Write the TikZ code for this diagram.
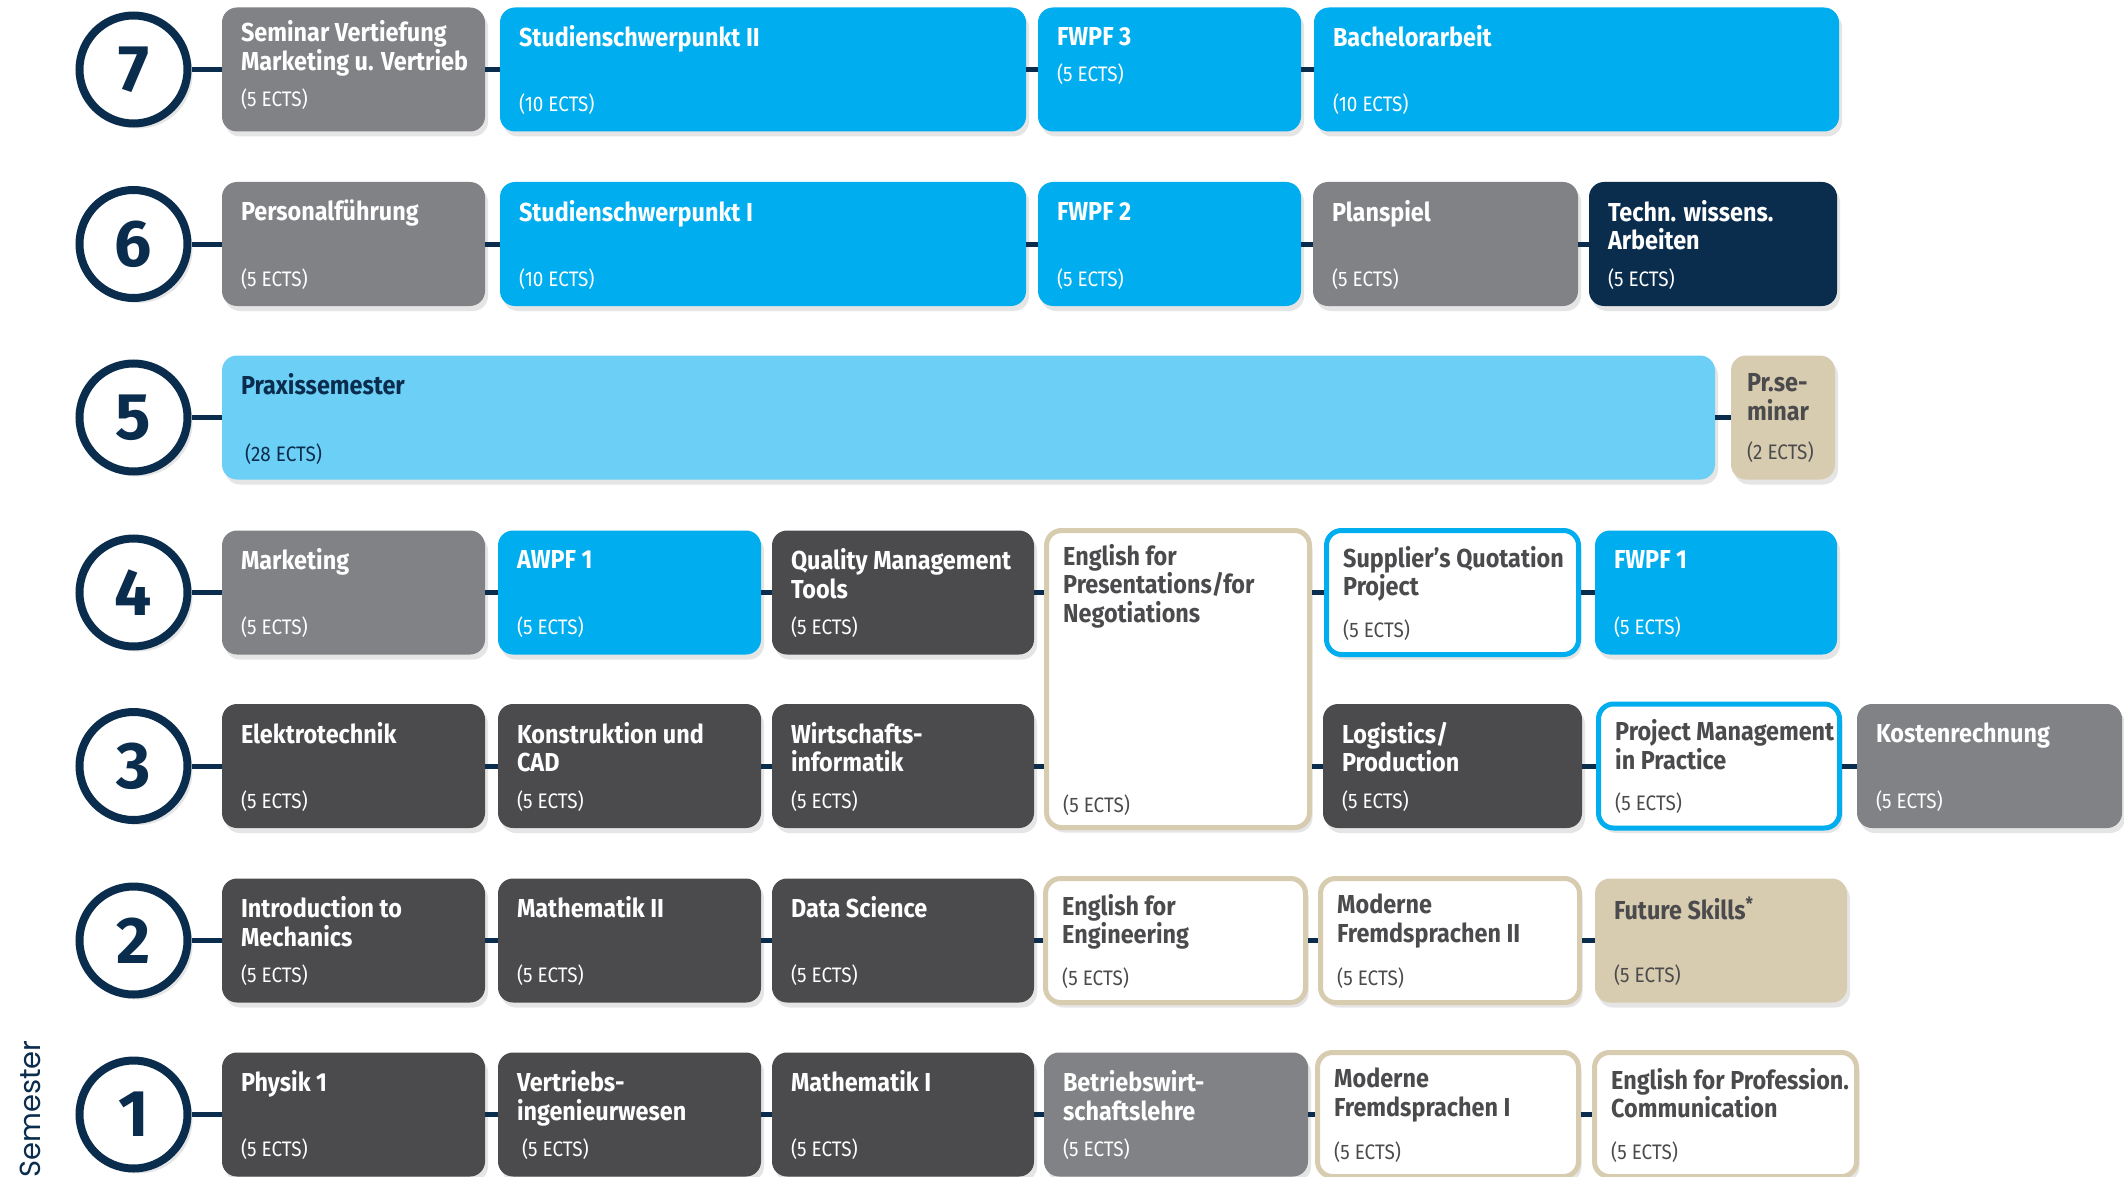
\documentclass[tikz,border=0pt]{standalone}
\usepackage{fontspec}
\setmainfont{Fira Sans}[FakeStretch=0.9]
\newfontfamily\numfont{Fira Sans}
\newfontfamily\semfont{Poppins}
\usepackage{tikz}
\usetikzlibrary{shadows}

\definecolor{navy}{HTML}{0B2D4D}
\definecolor{hsblue}{HTML}{00AEEF}
\definecolor{hslight}{HTML}{6CCFF6}
\definecolor{hsgray}{HTML}{808285}
\definecolor{hsdark}{HTML}{4B4B4D}
\definecolor{hsbeige}{HTML}{D8CCB0}

\begin{document}
\begin{tikzpicture}[x=1pt, y=-1pt]
        %style
        \tikzset{box/.style = {shape=rectangle, rounded corners=15pt, minimum width=#1, minimum height=124pt, inner sep=0pt, drop shadow={shadow xshift=3pt, shadow yshift=-5pt, opacity=1, fill=black!10}}}
        \tikzset{blueline/.style = {box=#1, fill=white, draw=hsblue, line width=5pt}}
        \tikzset{beigeline/.style = {box=#1, fill=white, draw=hsbeige, line width=5pt}}
        \tikzset{semcircle/.style = {shape=circle, draw=navy, line width=8pt, fill=white, minimum size=108pt, inner sep=0pt, text=navy, font=\numfont\bfseries\fontsize{66}{66}\selectfont, drop shadow={shadow xshift=5pt, shadow yshift=-5pt, opacity=1, fill=black!10}}}
        \tikzset{ctitle/.style = {anchor=north west, inner sep=0pt, align=left, xshift=19pt, yshift=-18pt, text=white, font=\bfseries\fontsize{26}{28.5}\selectfont, execute at begin node={\rule{0pt}{20pt}}}}
        \tikzset{dtitle/.style = {ctitle, text=hsdark}}
        \tikzset{ects/.style = {anchor=base west, inner sep=0pt, xshift=19pt, yshift=20pt, text=white, font=\fontsize{21}{24}\selectfont}}
        \tikzset{dects/.style = {ects, text=hsdark}}
        \tikzset{conn/.style = {draw=navy, line width=5pt}}

        \useasboundingbox (0,0) rectangle (2124,1177);
        \fill[white] (0,0) rectangle (2124,1177);

        % semester circles
        \node[semcircle] (c7) at (133.5,69.5)  {7};
        \node[semcircle] (c6) at (133.5,244)   {6};
        \node[semcircle] (c5) at (133.5,417.5) {5};
        \node[semcircle] (c4) at (133.5,592.5) {4};
        \node[semcircle] (c3) at (133.5,766)   {3};
        \node[semcircle] (c2) at (133.5,940.5) {2};
        \node[semcircle] (c1) at (133.5,1114.5) {1};
        \node[rotate=90, anchor=base east, inner sep=0pt, text=navy, font=\semfont\fontsize{29}{29}\selectfont] (semlabel) at (40,1040) {Semester};

        % 7
        \node[box=263pt, fill=hsgray, label={[ctitle, yshift=5pt]north west:Seminar Vertiefung\\Marketing u. Vertrieb}, label={[ects, yshift=5pt]south west:(5 ECTS)}] (sem) at (353.5,69.5) {};
        \node[box=526pt, fill=hsblue, label={[ctitle]north west:Studienschwerpunkt II}, label={[ects]south west:(10 ECTS)}] (ssp2) at (763,69.5) {};
        \node[box=263pt, fill=hsblue, label={[ctitle]north west:FWPF 3}, label={[ects, yshift=30pt]south west:(5 ECTS)}] (fwpf3) at (1169.5,69.5) {};
        \node[box=525pt, fill=hsblue, label={[ctitle]north west:Bachelorarbeit}, label={[ects]south west:(10 ECTS)}] (ba) at (1576.5,69.5) {};

        % 6
        \node[box=263pt, fill=hsgray, label={[ctitle]north west:Personalführung}, label={[ects]south west:(5 ECTS)}] (pf) at (353.5,244) {};
        \node[box=526pt, fill=hsblue, label={[ctitle]north west:Studienschwerpunkt I}, label={[ects]south west:(10 ECTS)}] (ssp1) at (763,244) {};
        \node[box=263pt, fill=hsblue, label={[ctitle]north west:FWPF 2}, label={[ects]south west:(5 ECTS)}] (fwpf2) at (1169.5,244) {};
        \node[box=265pt, fill=hsgray, label={[ctitle]north west:Planspiel}, label={[ects]south west:(5 ECTS)}] (plan) at (1445.5,244) {};
        \node[box=248pt, fill=navy, label={[ctitle]north west:Techn. wissens.\\Arbeiten}, label={[ects]south west:(5 ECTS)}] (twa) at (1713,244) {};

        % 5
        \node[box=1493pt, fill=hslight, label={[ctitle, text=navy]north west:Praxissemester}, label={[ects, text=navy, xshift=4pt, yshift=-2pt]south west:(28 ECTS)}] (praxis) at (968.5,417.5) {};
        \node[box=104pt, fill=hsbeige, label={[dtitle, xshift=-3pt]north west:Pr.se-\\minar}, label={[dects, xshift=-3pt]south west:(2 ECTS)}] (prsem) at (1783,417.5) {};

        % 4
        \node[box=263pt, fill=hsgray, label={[ctitle]north west:Marketing}, label={[ects]south west:(5 ECTS)}] (mkt) at (353.5,592.5) {};
        \node[box=263pt, fill=hsblue, label={[ctitle]north west:AWPF 1}, label={[ects]south west:(5 ECTS)}] (awpf) at (629.5,592.5) {};
        \node[box=262pt, fill=hsdark, label={[ctitle]north west:Quality Management\\Tools}, label={[ects]south west:(5 ECTS)}] (qmt) at (903,592.5) {};
        \node[beigeline=263pt, minimum height=297pt, label={[dtitle, yshift=2pt]north west:English for\\Presentations/for\\Negotiations}, label={[dects, yshift=-2pt]south west:(5 ECTS)}] (engp) at (1178,679) {};
        \node[blueline=252pt, label={[dtitle]north west:Supplier's Quotation\\Project}, label={[dects]south west:(5 ECTS)}] (sqp) at (1452.5,592.5) {};
        \node[box=242pt, fill=hsblue, label={[ctitle]north west:FWPF 1}, label={[ects]south west:(5 ECTS)}] (fwpf1) at (1716,592.5) {};

        % 3
        \node[box=263pt, fill=hsdark, label={[ctitle]north west:Elektrotechnik}, label={[ects]south west:(5 ECTS)}] (et) at (353.5,766) {};
        \node[box=263pt, fill=hsdark, label={[ctitle]north west:Konstruktion und\\CAD}, label={[ects]south west:(5 ECTS)}] (kcad) at (629.5,766) {};
        \node[box=262pt, fill=hsdark, label={[ctitle]north west:Wirtschafts-\\informatik}, label={[ects]south west:(5 ECTS)}] (wi) at (903,766) {};
        \node[box=259pt, fill=hsdark, label={[ctitle]north west:Logistics/\\Production}, label={[ects]south west:(5 ECTS)}] (lp) at (1452.5,766) {};
        \node[blueline=241pt, label={[dtitle]north west:Project Management\\in Practice}, label={[dects]south west:(5 ECTS)}] (pmp) at (1719,766) {};
        \node[box=265pt, fill=hsgray, label={[ctitle]north west:Kostenrechnung}, label={[ects]south west:(5 ECTS)}] (kr) at (1989.5,766) {};

        % 2
        \node[box=263pt, fill=hsdark, label={[ctitle]north west:Introduction to\\Mechanics}, label={[ects]south west:(5 ECTS)}] (itm) at (353.5,940.5) {};
        \node[box=263pt, fill=hsdark, label={[ctitle]north west:Mathematik II}, label={[ects]south west:(5 ECTS)}] (m2) at (629.5,940.5) {};
        \node[box=262pt, fill=hsdark, label={[ctitle]north west:Data Science}, label={[ects]south west:(5 ECTS)}] (ds) at (903,940.5) {};
        \node[beigeline=260pt, label={[dtitle]north west:English for\\Engineering}, label={[dects]south west:(5 ECTS)}] (efe) at (1175.5,940.5) {};
        \node[beigeline=259pt, label={[dtitle]north west:Moderne\\Fremdsprachen II}, label={[dects]south west:(5 ECTS)}] (mf2) at (1450,940.5) {};
        \node[box=252pt, fill=hsbeige, label={[dtitle]north west:Future Skills\textsuperscript{*}}, label={[dects]south west:(5 ECTS)}] (fs) at (1721,940.5) {};

        % 1
        \node[box=263pt, fill=hsdark, label={[ctitle]north west:Physik 1}, label={[ects]south west:(5 ECTS)}] (ph) at (353.5,1114.5) {};
        \node[box=263pt, fill=hsdark, label={[ctitle]north west:Vertriebs-\\ingenieurwesen}, label={[ects, xshift=5pt]south west:(5 ECTS)}] (vi) at (629.5,1114.5) {};
        \node[box=262pt, fill=hsdark, label={[ctitle]north west:Mathematik I}, label={[ects]south west:(5 ECTS)}] (m1) at (903,1114.5) {};
        \node[box=264pt, fill=hsgray, label={[ctitle]north west:Betriebswirt-\\schaftslehre}, label={[ects]south west:(5 ECTS)}] (bwl) at (1176,1114.5) {};
        \node[beigeline=261pt, label={[dtitle]north west:Moderne\\Fremdsprachen I}, label={[dects]south west:(5 ECTS)}] (mf1) at (1448,1114.5) {};
        \node[beigeline=262pt, label={[dtitle]north west:English for Profession.\\Communication}, label={[dects]south west:(5 ECTS)}] (epc) at (1725.5,1114.5) {};

        % connectors
        \draw[conn] (c7) -- (sem) (sem) -- (ssp2) (ssp2) -- (fwpf3) (fwpf3) -- (ba);
        \draw[conn] (c6) -- (pf) (pf) -- (ssp1) (ssp1) -- (fwpf2) (fwpf2) -- (plan) (plan) -- (twa);
        \draw[conn] (c5) -- (praxis) (praxis) -- (prsem);
        \draw[conn] (c4) -- (mkt) (mkt) -- (awpf) (awpf) -- (qmt) (qmt.east) -- (qmt.east -| engp.west) (engp.east |- sqp.west) -- (sqp.west) (sqp) -- (fwpf1);
        \draw[conn] (c3) -- (et) (et) -- (kcad) (kcad) -- (wi) (wi.east) -- (wi.east -| engp.west) (engp.east |- lp.west) -- (lp.west) (lp) -- (pmp) (pmp) -- (kr);
        \draw[conn] (c2) -- (itm) (itm) -- (m2) (m2) -- (ds) (ds) -- (efe) (efe) -- (mf2) (mf2) -- (fs);
        \draw[conn] (c1) -- (ph) (ph) -- (vi) (vi) -- (m1) (m1) -- (bwl) (bwl) -- (mf1) (mf1) -- (epc);
\end{tikzpicture}
\end{document}
